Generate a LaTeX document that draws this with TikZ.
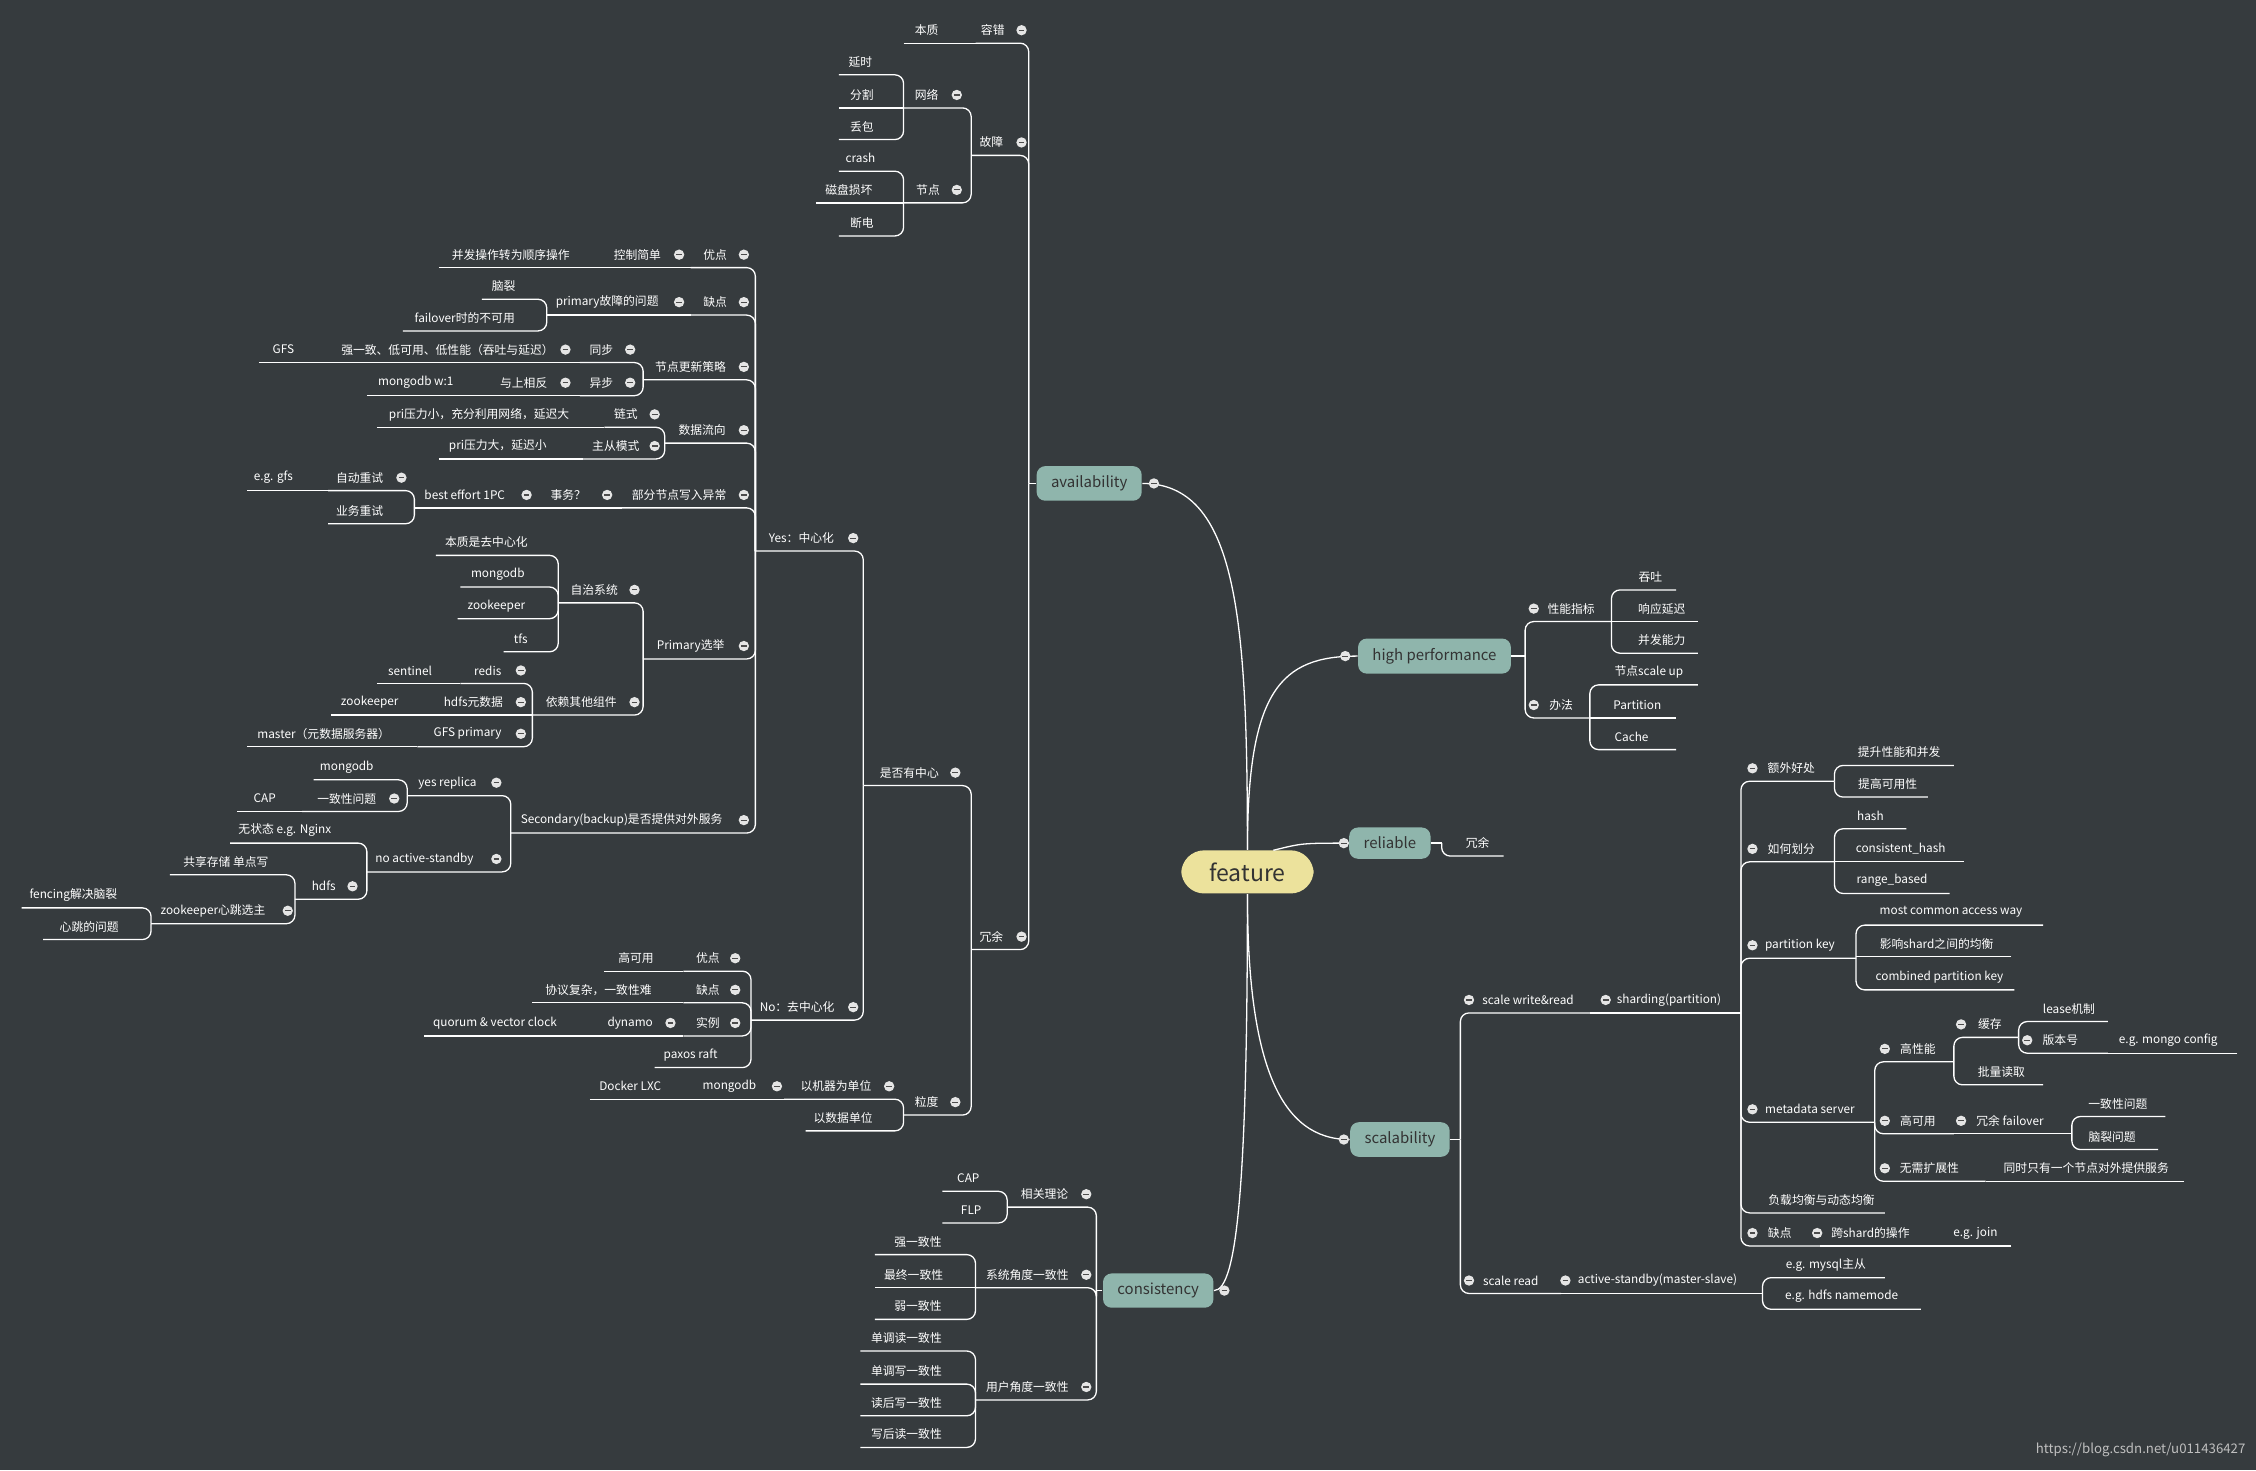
\documentclass[tikz,border=0pt]{standalone}
\usepackage{fontspec}
\setmainfont{Noto Sans CJK SC}
\definecolor{bg}{RGB}{54,59,62}
\definecolor{teal}{RGB}{143,181,172}
\definecolor{yel}{RGB}{236,226,156}
\begin{document}
\begin{tikzpicture}[x=0.5pt,y=-0.5pt,
  conn/.style={draw=white,line width=0.45pt},
  rc/.style={rounded corners=3pt},
  txt/.style={text=white,font=\fontsize{4.1}{5}\selectfont,inner sep=0pt},
  box/.style={fill=teal,text=black!80,rounded corners=3pt,font=\fontsize{5.2}{6}\selectfont,minimum height=9pt,inner xsep=5pt},
  btn/.style={circle,fill=white!90!black,minimum size=3.6pt,inner sep=0pt}]
\newcommand\mmConn[4]{\pgfmathsetmacro\mmdy{abs(#3-\csname mmy#4\endcsname)}%
  \ifdim\mmdy pt<2pt \draw[conn] (#1) -- (#2 |- #1);\else\draw[conn,rc] (#1) -| (#2);\fi}
\newcommand\mmL[6]{\coordinate (#1-a) at (#3,#5+9);\expandafter\gdef\csname mmy#1\endcsname{#5}%
  \mmConn{#1-a}{#2-a}{#5}{#2}\node[txt] (#1) at (#4,#5) {#6};}
\newcommand\mmR[6]{\coordinate (#1-b) at (#3,#5+9);\expandafter\gdef\csname mmy#1\endcsname{#5}%
  \mmConn{#1-b}{#2-b}{#5}{#2}\node[txt] (#1) at (#4,#5) {#6};}
\expandafter\def\csname mmyav\endcsname{327}
\expandafter\def\csname mmycons\endcsname{888}
\expandafter\def\csname mmyhp\endcsname{447}
\expandafter\def\csname mmyrel\endcsname{577}
\expandafter\def\csname mmysc\endcsname{783}
\useasboundingbox (0,0) rectangle (1568,1022);
\fill[bg] (0,0) rectangle (1568,1022);
% main nodes
\node[fill=yel,rounded corners=8pt,minimum width=46pt,minimum height=15pt,font=\fontsize{8}{9}\selectfont,text=black!80] (feat) at (867,606) {feature};
\node[box] (avn) at (757,336) {availability};
\node[box] (hpn) at (997,456) {high performance};
\node[box] (reln) at (966,586) {reliable};
\node[box] (scn) at (973,792) {scalability};
\node[box] (consn) at (805,897) {consistency};
\coordinate (av-a) at (715,336); \draw[conn] (avn.west) -- (av-a);
\coordinate (cons-a) at (762,897); \draw[conn] (consn.west) -- (cons-a);
\coordinate (hp-b) at (1060,456); \draw[conn] (hpn.east) -- (hp-b);
\coordinate (rel-b) at (1002,586); \draw[conn] (reln.east) -- (rel-b);
\coordinate (sc-b) at (1015,792); \draw[conn] (scn.east) -- (sc-b);
\coordinate (featr) at (885,591);
\draw[conn] (avn.east) .. controls (860,336) and (867,430) .. (feat.north);
\draw[conn] (feat.north) .. controls (867,480) and (890,456) .. (hpn.west);
\draw[conn] (featr) .. controls (905,586) .. (reln.west);
\draw[conn] (feat.south) .. controls (867,740) and (890,792) .. (scn.west);
\draw[conn] (feat.south) .. controls (867,820) and (860,897) .. (consn.east);
% availability
\mmL{rc}{av}{678}{690}{21}{容错}
\mmL{bz}{rc}{628}{644}{21}{本质}
\mmL{gz}{av}{675}{689}{99}{故障}
\mmL{wl}{gz}{628}{644}{66}{网络}
\mmL{ys}{wl}{583}{598}{43}{延时}
\mmL{fg}{wl}{583}{599}{66}{分割}
\mmL{db}{wl}{583}{599}{88}{丢包}
\mmL{jd}{gz}{628}{645}{132}{节点}
\mmL{cr}{jd}{583}{598}{110}{crash}
\mmL{cp}{jd}{567}{590}{132}{磁盘损坏}
\mmL{dd}{jd}{583}{599}{155}{断电}
\mmL{ry}{av}{675}{689}{651}{冗余}
\mmL{sf}{ry}{600}{632}{537}{是否有中心}
\mmL{yes}{sf}{525}{557}{374}{Yes：中心化}
\mmL{yd}{yes}{480}{497}{177}{优点}
\mmL{kz}{yd}{420}{443}{177}{控制简单}
\mmL{bf}{kz}{305}{355}{177}{并发操作转为顺序操作}
\mmL{qd}{yes}{480}{497}{210}{缺点}
\mmL{pg}{qd}{380}{422}{210}{primary故障的问题}
\mmL{nl}{pg}{335}{350}{199}{脑裂}
\mmL{fo}{pg}{280}{323}{221}{failover时的不可用}
\mmL{gx}{yes}{447}{480}{255}{节点更新策略}
\mmL{tb}{gx}{403}{418}{243}{同步}
\mmL{qy}{tb}{217}{311}{243}{强一致、低可用、低性能（吞吐与延迟）}
\mmL{gfs}{qy}{180}{197}{243}{GFS}
\mmL{yb}{gx}{403}{418}{266}{异步}
\mmL{ysx}{yb}{340}{364}{266}{与上相反}
\mmL{mw}{ysx}{255}{289}{266}{mongodb w:1}
\mmL{sj}{yes}{462}{488}{299}{数据流向}
\mmL{ls}{sj}{420}{435}{288}{链式}
\mmL{px}{ls}{262}{333}{288}{pri压力小，充分利用网络，延迟大}
\mmL{zc}{sj}{405}{428}{310}{主从模式}
\mmL{pd}{zc}{305}{346}{310}{pri压力大，延迟小}
\mmL{bfx}{yes}{432}{472}{344}{部分节点写入异常}
\mmL{sw}{bfx}{375}{395}{344}{事务？}
\mmL{be}{sw}{288}{323}{344}{best effort 1PC}
\mmL{zd}{be}{228}{250}{332}{自动重试}
\mmL{eg}{zd}{172}{190}{332}{e.g. gfs}
\mmL{yw}{be}{228}{250}{355}{业务重试}
\mmL{pxj}{yes}{447}{480}{449}{Primary选举}
\mmL{zz}{pxj}{388}{413}{410}{自治系统}
\mmL{bzq}{zz}{303}{338}{377}{本质是去中心化}
\mmL{mg}{zz}{320}{346}{399}{mongodb}
\mmL{zk}{zz}{318}{345}{421}{zookeeper}
\mmL{tfs}{zz}{350}{362}{444}{tfs}
\mmL{yl}{pxj}{370}{404}{488}{依赖其他组件}
\mmL{rd}{yl}{320}{339}{466}{redis}
\mmL{st}{rd}{262}{285}{466}{sentinel}
\mmL{hy}{yl}{300}{329}{488}{hdfs元数据}
\mmL{zk2}{hy}{230}{257}{488}{zookeeper}
\mmL{gp}{yl}{290}{325}{510}{GFS primary}
\mmL{ms}{gp}{172}{225}{510}{master（元数据服务器）}
\mmL{sec}{yes}{355}{432}{570}{Secondary(backup)是否提供对外服务}
\mmL{yr}{sec}{283}{311}{544}{yes replica}
\mmL{mg2}{yr}{218}{241}{533}{mongodb}
\mmL{yz}{yr}{210}{241}{555}{一致性问题}
\mmL{cap}{yz}{165}{184}{555}{CAP}
\mmL{na}{sec}{255}{295}{597}{no active-standby}
\mmL{wz}{na}{160}{198}{577}{无状态 e.g. Nginx}
\mmL{hd}{na}{205}{225}{616}{hdfs}
\mmL{gc}{hd}{118}{157}{599}{共享存储 单点写}
\mmL{zx}{hd}{105}{148}{633}{zookeeper心跳选主}
\mmL{fe}{zx}{15}{51}{622}{fencing解决脑裂}
\mmL{xt}{zx}{30}{62}{644}{心跳的问题}
\mmL{no}{sf}{522}{554}{700}{No：去中心化}
\mmL{nyd}{no}{475}{492}{666}{优点}
\mmL{gk}{nyd}{420}{442}{666}{高可用}
\mmL{nqd}{no}{475}{492}{688}{缺点}
\mmL{xy}{nqd}{370}{416}{688}{协议复杂，一致性难}
\mmL{sl}{no}{475}{492}{711}{实例}
\mmL{dy}{sl}{415}{438}{711}{dynamo}
\mmL{qv}{dy}{295}{344}{711}{quorum \& vector clock}
\mmL{pr}{no}{455}{480}{733}{paxos raft}
\mmL{ld}{ry}{628}{644}{766}{粒度}
\mmL{jq}{ld}{545}{581}{755}{以机器为单位}
\mmL{mg3}{jq}{485}{507}{755}{mongodb}
\mmL{dk}{mg3}{410}{438}{755}{Docker LXC}
\mmL{sjd}{ld}{560}{586}{777}{以数据单位}
% consistency
\mmL{xg}{cons}{700}{726}{830}{相关理论}
\mmL{cap2}{xg}{655}{673}{819}{CAP}
\mmL{flp}{xg}{655}{675}{841}{FLP}
\mmL{xt2}{cons}{678}{714}{886}{系统角度一致性}
\mmL{qz}{xt2}{608}{638}{863}{强一致性}
\mmL{zzy}{xt2}{608}{635}{886}{最终一致性}
\mmL{rz}{xt2}{608}{638}{908}{弱一致性}
\mmL{yh}{cons}{678}{714}{964}{用户角度一致性}
\mmL{u1}{yh}{598}{630}{930}{单调读一致性}
\mmL{u2}{yh}{598}{630}{953}{单调写一致性}
\mmL{u3}{yh}{598}{630}{975}{读后写一致性}
\mmL{u4}{yh}{598}{630}{997}{写后读一致性}
% high performance
\mmR{xn}{hp}{1120}{1092}{423}{性能指标}
\mmR{tt}{xn}{1165}{1147}{401}{吞吐}
\mmR{xy2}{xn}{1180}{1155}{423}{响应延迟}
\mmR{bn}{xn}{1180}{1155}{445}{并发能力}
\mmR{bfa}{hp}{1105}{1085}{490}{办法}
\mmR{su}{bfa}{1180}{1146}{467}{节点scale up}
\mmR{pt}{bfa}{1165}{1138}{490}{Partition}
\mmR{ch}{bfa}{1165}{1134}{512}{Cache}
% reliable
\mmR{ry2}{rel}{1045}{1027}{586}{冗余}
% scalability
\mmR{swr}{sc}{1105}{1062}{695}{scale write\&read}
\mmR{sh}{swr}{1210}{1160}{695}{sharding(partition)}
\mmR{ew}{sh}{1275}{1245}{534}{额外好处}
\mmR{ts}{ew}{1358}{1320}{523}{提升性能和并发}
\mmR{tg}{ew}{1340}{1312}{545}{提高可用性}
\mmR{hf}{sh}{1275}{1245}{590}{如何划分}
\mmR{hs}{hf}{1325}{1300}{567}{hash}
\mmR{chs}{hf}{1365}{1321}{590}{consistent\_hash}
\mmR{rb}{hf}{1355}{1315}{612}{range\_based}
\mmR{pk}{sh}{1290}{1251}{657}{partition key}
\mmR{mc}{pk}{1420}{1356}{634}{most common access way}
\mmR{yx}{pk}{1398}{1346}{656}{影响shard之间的均衡}
\mmR{cpk}{pk}{1400}{1348}{679}{combined partition key}
\mmR{md}{sh}{1303}{1258}{771}{metadata server}
\mmR{gxn}{md}{1358}{1333}{729}{高性能}
\mmR{hc}{gxn}{1403}{1383}{712}{缓存}
\mmR{lj}{hc}{1465}{1438}{701}{lease机制}
\mmR{bbh}{hc}{1465}{1432}{723}{版本号}
\mmR{emc}{bbh}{1555}{1507}{723}{e.g. mongo config}
\mmR{pl}{gxn}{1420}{1391}{745}{批量读取}
\mmR{gky}{md}{1358}{1333}{779}{高可用}
\mmR{rf}{gky}{1440}{1397}{779}{冗余 failover}
\mmR{yzw}{rf}{1505}{1472}{767}{一致性问题}
\mmR{nlw}{rf}{1500}{1468}{790}{脑裂问题}
\mmR{wx}{md}{1380}{1341}{812}{无需扩展性}
\mmR{tz}{wx}{1518}{1450}{812}{同时只有一个节点对外提供服务}
\mmR{fz}{sh}{1310}{1266}{834}{负载均衡与动态均衡}
\mmR{qdr}{sh}{1265}{1237}{857}{缺点}
\mmR{ks}{qdr}{1345}{1300}{857}{跨shard的操作}
\mmR{ej}{ks}{1398}{1373}{857}{e.g. join}
\mmR{sr}{sc}{1085}{1050}{890}{scale read}
\mmR{as}{sr}{1225}{1152}{890}{active-standby(master-slave)}
\mmR{em}{as}{1310}{1269}{879}{e.g. mysql主从}
\mmR{eh}{as}{1335}{1280}{901}{e.g. hdfs namemode}
% buttons
\foreach \p in {(802,336),(935,456),(934,586),(934,792),(851,897),
 (710,21),(710,99),(665,66),(665,132),(710,651),(664,537),(593,374),(593,700),(664,766),
 (517,177),(472,177),(517,210),(472,210),(517,255),(438,243),(393,243),(438,266),(393,266),
 (517,299),(455,288),(455,310),(517,344),(422,344),(366,344),(279,332),
 (517,449),(441,410),(441,488),(362,466),(362,488),(362,510),(517,570),(345,544),(274,555),
 (345,597),(245,616),(200,633),(511,666),(511,688),(511,711),(466,711),(618,755),(540,755),
 (755,830),(755,886),(755,964),(1066,423),(1066,490),(1021,695),(1116,695),(1218,534),
 (1218,590),(1218,657),(1218,771),(1310,729),(1363,712),(1409,723),(1310,779),(1363,779),
 (1310,812),(1218,857),(1263,857),(1021,890),(1088,890)}
 {\node[btn] at \p {}; \draw[black!70,line width=0.4pt] \p ++(-2,0) -- ++(4,0);}
\node[text=white!75!black,font=\fontsize{4.6}{5}\selectfont,inner sep=0pt,anchor=east] (wm) at (1561,1008) {https://blog.csdn.net/u011436427};
\end{tikzpicture}
\end{document}
